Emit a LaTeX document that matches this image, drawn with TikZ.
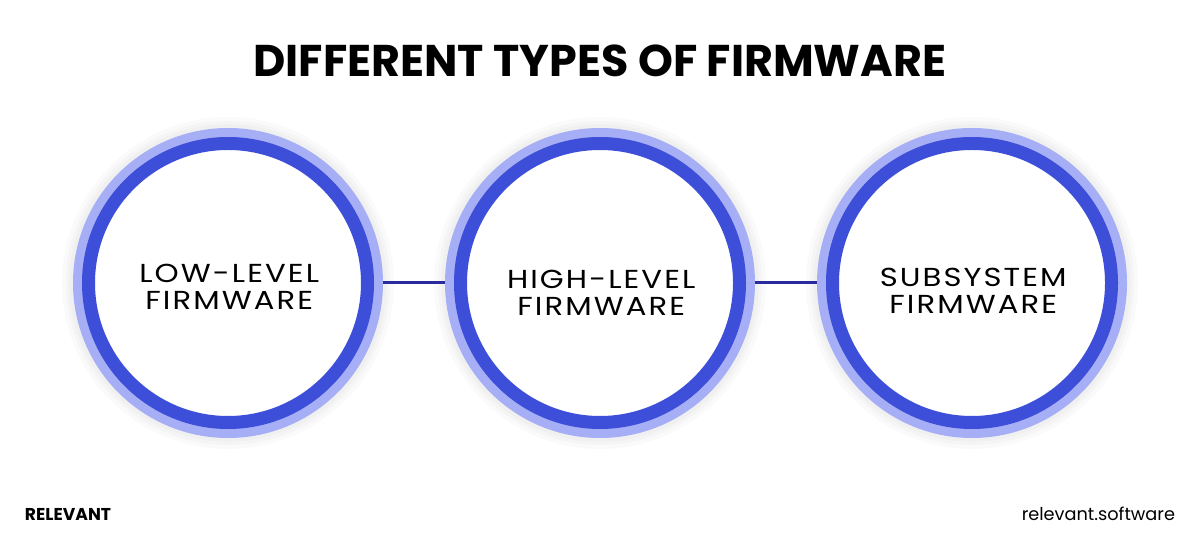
\documentclass[tikz,border=0pt]{standalone}
\usepackage{fontspec}
\setmainfont{Poppins}
\usetikzlibrary{calc}
\definecolor{ringdark}{HTML}{3D4ED8}
\definecolor{ringlight}{HTML}{A6AEF5}
\definecolor{linknavy}{HTML}{2A2A9E}
\tikzset{
    stage/.style={circle, fill=white, draw=ringdark, line width=0.325cm, minimum size=6.975cm, inner sep=0pt, outer sep=0.3875cm,
        preaction={draw=ringlight, line width=0.775cm}},
    caption/.style={align=center, inner sep=0pt, font=\fontsize{18.5}{19.4}\selectfont\addfontfeatures{FakeStretch=1.18, LetterSpace=8}},
    link/.style={draw=linknavy, line width=0.075cm},
    glow/.style={fill=black, opacity=0.018},
}
\begin{document}
\begin{tikzpicture}
    \newcommand\posY{6.375}
    \newcommand\posL{5.7}
    \newcommand\posH{15.0}
    \newcommand\posS{24.3}

    \useasboundingbox[fill=white] (0,0) rectangle (30,13.45);

    % soft shadow round the circles
    \foreach \x in {\posL, \posH, \posS}{
        \fill[glow] (\x, \posY) circle (4.15);
        \fill[glow] (\x, \posY) circle (4.05);
        \fill[glow] (\x, \posY) circle (3.97);
    }

    \node[] (title) at (15, 11.925){\fontsize{31.6}{34}\selectfont\bfseries DIFFERENT TYPES OF FIRMWARE};

    \node[stage] (low) at (\posL, \posY){};
    \node[stage] (high) at (\posH, \posY){};
    \node[stage] (sub) at (\posS, \posY){};

    \node[caption] (lowtxt) at ($(low) + (0.03, -0.1)$){LOW-LEVEL\\FIRMWARE};
    \node[caption] (hightxt) at ($(high) + (0.03, -0.25)$){HIGH-LEVEL\\FIRMWARE};
    \node[caption] (subtxt) at ($(sub) + (0.03, -0.2)$){SUBSYSTEM\\FIRMWARE};

    \draw[link] (low.east) -- (high.west);
    \draw[link] (high.east) -- (sub.west);

    \node[anchor=west] (brand) at (0.5, 0.6){\fontsize{12.2}{14}\selectfont\bfseries RELEVANT};
    \node[anchor=east] (site) at (29.5, 0.6){\fontsize{12.6}{14}\selectfont relevant.software};
\end{tikzpicture}
\end{document}
